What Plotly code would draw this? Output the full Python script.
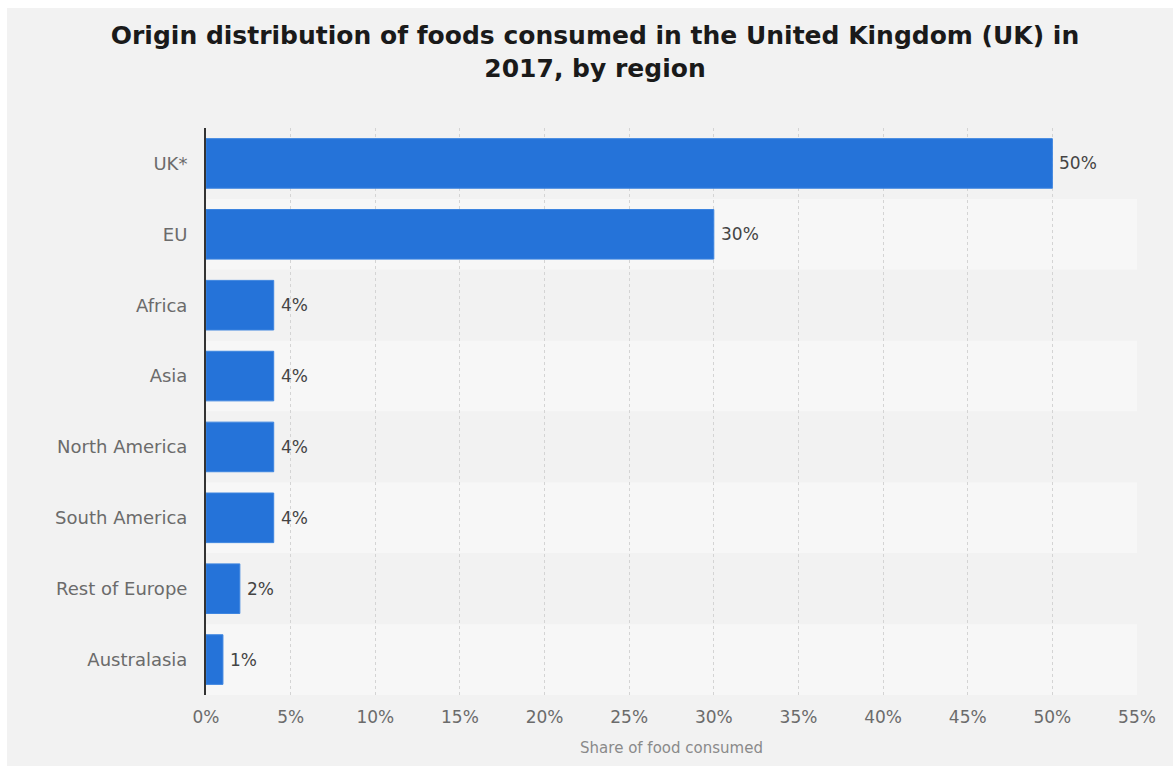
import plotly.graph_objects as go

# Data
regions = ["UK*", "EU", "Africa", "Asia", "North America", "South America",
           "Rest of Europe", "Australasia"]
shares = [50, 30, 4, 4, 4, 4, 2, 1]
tick_vals = [0, 5, 10, 15, 20, 25, 30, 35, 40, 45, 50, 55]
tick_text = [f"{v}%" for v in tick_vals]

W, H = 1173, 767
L, R, T, B = 206, 36, 128, 72
pw, ph = W - L - R, H - T - B

def px_x(x):
    return (x - L) / pw

def px_y(y):
    return (H - B - y) / ph

fig = go.Figure()

fig.add_trace(go.Bar(
    y=regions, x=shares, orientation="h",
    marker=dict(color="#2573d9", line=dict(color="#3d85e0", width=1)),
    width=0.7,
    hoverinfo="skip",
))

# value labels just past each bar end
annotations = [
    dict(x=v, y=r, xref="x", yref="y", text=f"{v}%", showarrow=False,
         xanchor="left", yanchor="middle", xshift=5,
         font=dict(family="DejaVu Sans", size=17, color="#444444"))
    for r, v in zip(regions, shares)
]

shapes = [
    # grey panel behind the chart
    dict(type="rect", xref="paper", yref="paper",
         x0=px_x(7), x1=px_x(1173), y0=px_y(766), y1=px_y(8),
         fillcolor="#f2f2f2", line=dict(width=0), layer="below"),
]
# alternating row bands
for i, r in enumerate(regions):
    shapes.append(dict(type="rect", xref="paper", yref="y",
                       x0=0, x1=1, y0=i - 0.5, y1=i + 0.5,
                       fillcolor="#f2f2f2" if i % 2 == 0 else "#f7f7f7",
                       line=dict(width=0), layer="below"))

fig.update_layout(
    width=W, height=H,
    margin=dict(l=L, r=R, t=T, b=B),
    paper_bgcolor="white", plot_bgcolor="rgba(0,0,0,0)",
    shapes=shapes,
    annotations=annotations,
    showlegend=False,
    title=dict(
        text="Origin distribution of foods consumed in the United Kingdom (UK) in<br>2017, by region",
        x=595 / W, xref="container", xanchor="center",
        y=1 - 44 / H, yref="container", yanchor="middle",
        font=dict(family="DejaVu Sans", size=25, color="#1a1a1a", weight="bold"),
    ),
    font=dict(family="DejaVu Sans"),
    bargap=0.3,
)

fig.update_xaxes(
    range=[0, 55], tickvals=tick_vals, ticktext=tick_text,
    tickfont=dict(size=17, color="#6b6b6b"),
    showgrid=True, gridcolor="#d4d4d4", griddash="dot", gridwidth=1,
    zeroline=False, showline=False, ticks="", ticklabelstandoff=10,
    title=dict(text="Share of food consumed", font=dict(size=15, color="#8a8a8a"),
               standoff=16),
    fixedrange=True,
)
fig.update_yaxes(
    categoryorder="array", categoryarray=regions, autorange="reversed",
    tickfont=dict(size=18, color="#6b6b6b"),
    showgrid=False, zeroline=False,
    showline=True, linecolor="#333333", linewidth=2,
    ticks="", ticklabelstandoff=13,
    fixedrange=True,
)

fig.write_html("out.html")
